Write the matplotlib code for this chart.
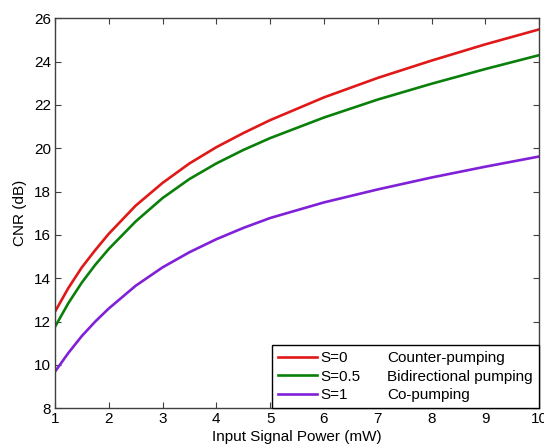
import matplotlib
matplotlib.use("Agg")
import matplotlib.pyplot as plt
from matplotlib.lines import Line2D

plt.rcParams['font.family'] = ['Liberation Sans', 'DejaVu Sans']

power_mw = [1, 1.25, 1.5, 1.75, 2, 2.5, 3, 3.5, 4, 4.5, 5, 6, 7, 8, 9, 10]
cnr_s0 = [12.45, 13.55, 14.5, 15.3, 16.05, 17.35, 18.4, 19.3, 20.05, 20.7,
          21.3, 22.35, 23.25, 24.05, 24.8, 25.49]
cnr_s05 = [11.75, 12.85, 13.8, 14.62, 15.35, 16.62, 17.7, 18.58, 19.3, 19.92,
           20.47, 21.42, 22.25, 22.98, 23.66, 24.3]
cnr_s1 = [9.68, 10.55, 11.33, 12.0, 12.6, 13.65, 14.5, 15.2, 15.8, 16.32,
          16.78, 17.5, 18.1, 18.65, 19.15, 19.62]

series_labels = ["S=0", "S=0.5", "S=1"]
series_desc = ["Counter-pumping", "Bidirectional pumping", "Co-pumping"]
colors = ["#e01818", "#0a800a", "#8020d8"]

xticks = [1, 2, 3, 4, 5, 6, 7, 8, 9, 10]
yticks = [8, 10, 12, 14, 16, 18, 20, 22, 24, 26]

fig = plt.figure(figsize=(5.44, 4.48), dpi=100)
ax = fig.add_axes([0.101, 0.089, 0.89, 0.87])

for y, c, lab in zip([cnr_s0, cnr_s05, cnr_s1], colors, series_labels):
    ax.plot(power_mw, y, color=c, lw=1.9, label=lab)

ax.set_xlim(1, 10)
ax.set_ylim(8, 26)
ax.set_xticks(xticks)
ax.set_yticks(yticks)
ax.tick_params(direction='in', top=True, right=True, labelsize=11, length=4,
               color='#404040', pad=3)
for s in ax.spines.values():
    s.set_color('#404040')
    s.set_linewidth(1.0)

ax.set_xlabel("Input Signal Power (mW)", fontsize=11, labelpad=3)
ax.set_ylabel("CNR (dB)", fontsize=11, labelpad=5)

handles = [Line2D([], [], color=c, lw=1.9) for c in colors]
blank = [Line2D([], [], color='none') for _ in series_desc]
leg = ax.legend(handles + blank, series_labels + series_desc, ncol=2,
                loc='lower right', bbox_to_anchor=(1.0, 0.0), fontsize=11,
                frameon=True, fancybox=False, framealpha=1, edgecolor='black',
                handlelength=2.55, handletextpad=0.26, columnspacing=-1.07,
                labelspacing=0.28, borderpad=0.4, borderaxespad=0.0)
leg.get_frame().set_linewidth(1.0)

fig.savefig("out.png", dpi=100)
